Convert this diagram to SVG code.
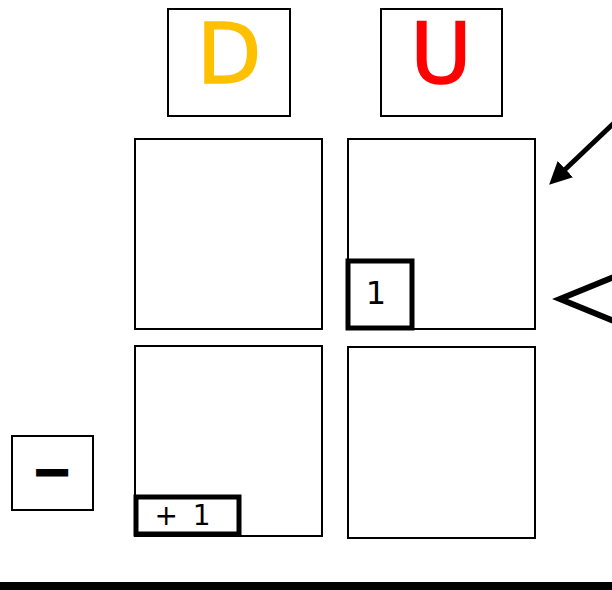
<svg xmlns="http://www.w3.org/2000/svg" width="612" height="590" viewBox="0 0 612 590">
<style>
.box{fill:#fff;stroke:#000;stroke-width:2}
.thick{fill:#fff;stroke:#000;stroke-width:5}
.t{font-family:"DejaVu Sans",sans-serif;text-anchor:middle}
</style>
<defs>
<marker id="ah" viewBox="0 0 10 10" refX="7" refY="5" markerWidth="4.5" markerHeight="4.5" orient="auto" markerUnits="strokeWidth">
<path d="M0,0 L10,5 L0,10 z" fill="#000"/>
</marker>
</defs>
<rect width="612" height="590" fill="#fff"/>
<g id="nodeD"><rect class="box" x="168" y="9" width="122" height="107"/><text class="t" x="229" y="83" font-size="84" fill="#FFC000" stroke="#FFC000" stroke-width="1.5">D</text></g>
<g id="nodeU"><rect class="box" x="381" y="9" width="121" height="107"/><text class="t" x="441" y="83" font-size="84" fill="#FF0000" stroke="#FF0000" stroke-width="1.5">U</text></g>
<g id="cellTL"><rect class="box" x="135" y="139" width="187" height="190"/></g>
<g id="cellTR"><rect class="box" x="348" y="139" width="187" height="190"/></g>
<g id="cellBL"><rect class="box" x="135" y="346" width="187" height="190"/></g>
<g id="cellBR"><rect class="box" x="348" y="347" width="187" height="191"/></g>
<g id="one"><rect class="thick" x="348" y="261" width="64" height="67"/><text class="t" x="376" y="304" font-size="32">1</text></g>
<g id="plusone"><rect class="thick" x="136" y="497" width="103" height="37"/><text class="t" x="184" y="525" font-size="28" letter-spacing="3">+ 1</text></g>
<g id="minus"><rect class="box" x="12" y="436" width="81" height="74"/><text class="t" x="52" y="488" font-size="48" font-weight="bold" stroke="#000" stroke-width="2">−</text></g>
<g id="connectors">
<line x1="614" y1="123" x2="554" y2="180" stroke="#000" stroke-width="5" marker-end="url(#ah)"/>
<polyline points="614,277 560,299 614,321" fill="none" stroke="#000" stroke-width="6"/>
</g>
<rect x="0" y="582" width="612" height="8" fill="#000"/>
</svg>
